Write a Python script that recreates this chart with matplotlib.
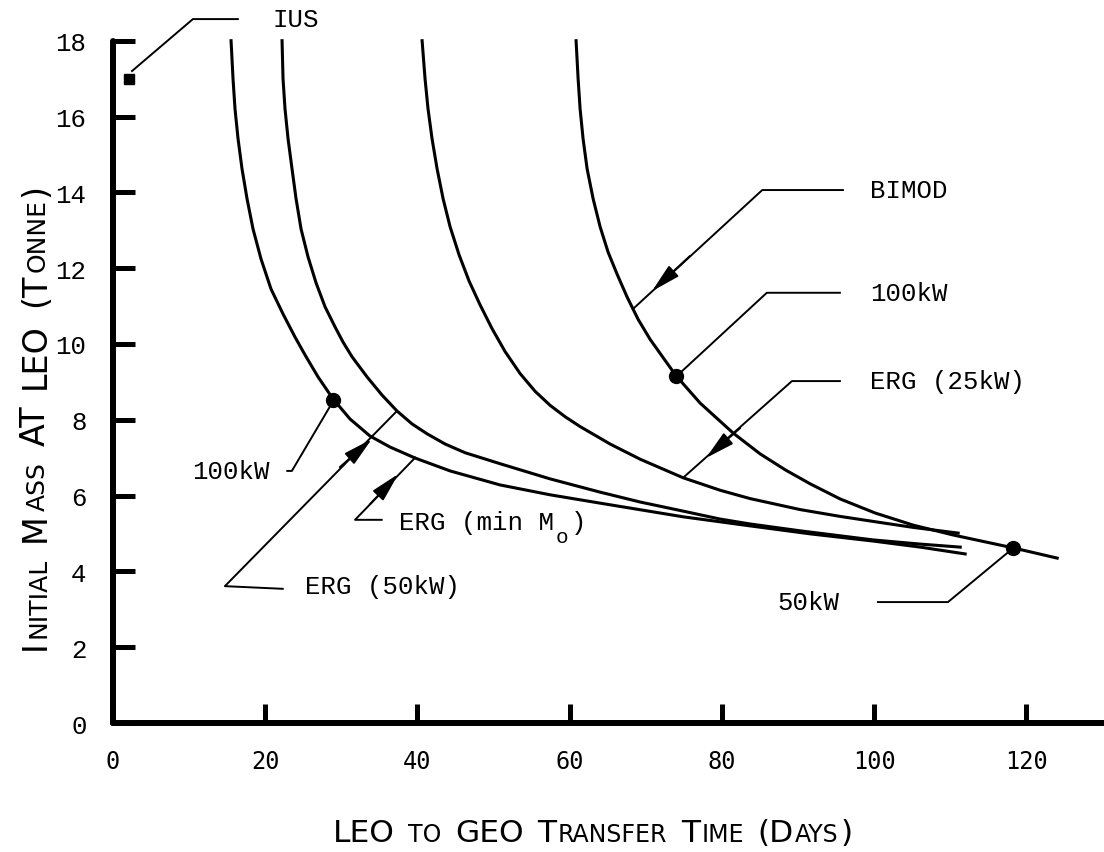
import matplotlib
matplotlib.use('Agg')
import matplotlib.pyplot as plt
from matplotlib import font_manager

# curves (days, tonnes)
days_min = [15.51, 15.77, 16.03, 16.43, 16.95, 17.61, 18.40, 19.45, 20.76, 22.34, 23.92,
            25.23, 26.94, 28.91, 31.14, 33.77, 36.40, 39.69, 44.29, 50.86, 57.43, 64.0,
            74.90, 83.71, 91.59, 99.87, 106.05, 111.96]
mass_min = [18.0, 16.99, 16.20, 15.41, 14.62, 13.83, 13.03, 12.24, 11.45, 10.79, 10.18,
            9.71, 9.13, 8.55, 8.02, 7.57, 7.28, 6.99, 6.65, 6.28, 6.02, 5.80,
            5.44, 5.20, 4.99, 4.80, 4.64, 4.46]

days_50 = [22.21, 22.34, 22.60, 23.00, 23.52, 24.05, 24.71, 25.62, 26.68, 27.86, 29.17,
           30.22, 31.41, 33.38, 35.35, 37.32, 39.29, 41.26, 43.63, 46.26, 50.86, 57.43,
           64.0, 69.25, 74.90, 79.77, 83.71, 90.28, 99.87, 106.05, 111.31]
mass_50 = [18.0, 16.99, 16.20, 15.41, 14.62, 13.83, 13.03, 12.30, 11.61, 10.98, 10.45,
           10.05, 9.66, 9.13, 8.65, 8.23, 7.89, 7.63, 7.36, 7.13, 6.84, 6.44,
           6.09, 5.83, 5.59, 5.38, 5.25, 5.07, 4.83, 4.72, 4.64]

days_25 = [40.61, 41.0, 41.39, 41.92, 42.58, 43.37, 44.29, 45.47, 46.78, 48.23, 49.81,
           51.51, 53.48, 55.46, 57.43, 59.40, 61.37, 65.31, 69.25, 74.90, 79.77, 83.71,
           90.28, 95.54, 100.79, 105.13, 111.04]
mass_25 = [18.0, 16.99, 16.20, 15.41, 14.62, 13.83, 13.09, 12.35, 11.66, 11.03, 10.40,
           9.80, 9.22, 8.75, 8.38, 8.08, 7.82, 7.36, 6.96, 6.47, 6.14, 5.92,
           5.63, 5.45, 5.29, 5.16, 5.01]

days_bimod = [60.84, 61.11, 61.37, 61.76, 62.29, 63.08, 64.0, 65.05, 66.23, 67.54, 68.99,
              70.57, 73.98, 77.14, 81.47, 85.02, 88.31, 91.59, 95.54, 100.13, 105.13,
              110.38, 118.27, 124.05]
mass_bimod = [18.0, 16.99, 16.20, 15.41, 14.62, 13.83, 13.09, 12.42, 11.84, 11.24, 10.65,
              10.12, 9.16, 8.44, 7.65, 7.10, 6.68, 6.31, 5.91, 5.54, 5.22,
              4.96, 4.62, 4.35]

dot_days = [28.9, 74.0, 118.3]
dot_mass = [8.53, 9.16, 4.62]
ius_days = [2.1]
ius_mass = [17.0]

xticks = [0, 20, 40, 60, 80, 100, 120]
yticks = [0, 2, 4, 6, 8, 10, 12, 14, 16, 18]

names = {f.name for f in font_manager.fontManager.ttflist}
label_font = 'Liberation Sans Narrow' if 'Liberation Sans Narrow' in names else 'DejaVu Sans'
mono = 'Liberation Mono'

W, H = 1104, 853
fig = plt.figure(figsize=(W / 100, H / 100), dpi=100)
ax = fig.add_axes([113 / W, 1 - 724 / H, 1 - 113 / W, 724 / H])

ax.set_xlim(0, 130.2)
ax.set_ylim(0, 19.1)
for s in ['top', 'right']:
    ax.spines[s].set_visible(False)
ax.spines['left'].set_bounds(0, 18)
for s in ['left', 'bottom']:
    ax.spines[s].set_linewidth(4.3)
    ax.spines[s].set_capstyle('round')

ax.set_xticks(xticks, labels=[str(t) for t in xticks], fontfamily='DejaVu Sans Mono', fontsize=17)
ax.set_yticks(yticks, labels=[str(t) for t in yticks], fontfamily=mono, fontsize=18.5)
ax.tick_params(axis='x', direction='in', length=14, width=3.6, pad=19)
ax.tick_params(axis='y', direction='in', length=16, width=3.6, pad=19)

lw = 2.2
ax.plot(days_min, mass_min, color='k', lw=lw, solid_joinstyle='round')
ax.plot(days_50, mass_50, color='k', lw=lw, solid_joinstyle='round')
ax.plot(days_25, mass_25, color='k', lw=lw, solid_joinstyle='round')
ax.plot(days_bimod, mass_bimod, color='k', lw=lw, solid_joinstyle='round')
ax.plot(dot_days, dot_mass, 'o', color='k', ms=10)
ax.plot(ius_days, ius_mass, 's', color='k', ms=7)


def leader(xs, ys, arrow=None):
    ax.plot(xs, ys, color='k', lw=1.4, clip_on=False)
    if arrow:
        ax.annotate('', xy=arrow[1], xytext=arrow[0],
                    arrowprops=dict(arrowstyle='-|>,head_length=0.9,head_width=0.22',
                                    color='k', lw=1.4, mutation_scale=20,
                                    shrinkA=0, shrinkB=0))


def label(x, y, s, size=18.5, ha='left'):
    ax.text(x, y, s, family=mono, fontsize=size, va='center', ha=ha)


# IUS
leader([2.5, 10.5, 16.4], [17.2, 18.57, 18.57])
label(21.0, 18.57, 'IUS')
# BIMOD
leader([95.9, 85.3, 68.3], [14.06, 14.06, 10.92], ((75.8, 12.32), (70.8, 11.39)))
label(99.5, 14.06, 'BIMOD')
# 100kW on BIMOD
leader([95.5, 85.9, 74.8], [11.35, 11.35, 9.29])
label(99.5, 11.35, '100kW')
# ERG (25kW)
leader([95.5, 89.2, 74.9], [9.02, 9.02, 6.47], ((82.4, 7.78), (77.9, 6.99)))
label(99.5, 9.02, 'ERG (25kW)')
# 50kW
leader([100.5, 109.7, 118.3], [3.19, 3.19, 4.62])
label(87.3, 3.19, '50kW')
# 100kW on the min-mass curve
leader([22.9, 23.5, 28.8], [6.65, 6.65, 8.45])
label(20.6, 6.65, '100kW', ha='right')
# ERG (min Mo)
leader([35.3, 31.8, 39.7], [5.36, 5.36, 7.0], ((33.8, 5.78), (37.5, 6.57)))
label(37.6, 5.3, 'ERG (min M')
label(58.1, 4.93, 'o', size=15)
label(60.2, 5.3, ')')
# ERG (50kW)
leader([22.3, 14.7, 37.3], [3.54, 3.61, 8.23], ((29.8, 6.75), (34.0, 7.49)))
label(25.2, 3.61, 'ERG (50kW)')

# small caps axis titles
B, S = True, False
xwords = [[('LEO', B)], [('TO', S)], [('GEO', B)], [('T', B), ('RANSFER', S)],
          [('T', B), ('IME', S)], [('(D', B), ('AYS', S), (')', B)]]
ywords = [[('I', B), ('NITIAL', S)], [('M', B), ('ASS', S)], [('AT', B)], [('LEO', B)],
          [('(T', B), ('ONNE', S), (')', B)]]


def smallcaps(words, center, base, vertical=False, big=24, small=18, gap=13):
    r = fig.canvas.get_renderer()
    widths = []
    for word in words:
        ws = []
        for s, b in word:
            t = fig.text(0, 0, s, fontsize=big if b else small, family=label_font)
            ws.append(t.get_window_extent(r).width)
            t.remove()
        widths.append(ws)
    total = sum(sum(ws) + 1.5 * (len(ws) - 1) for ws in widths) + gap * (len(words) - 1)
    pos = center - total / 2
    for word, ws in zip(words, widths):
        for (s, b), w in zip(word, ws):
            kw = dict(fontsize=big if b else small, family=label_font, ha='left', va='baseline')
            if vertical:
                fig.text(base / W, pos / H, s, rotation=90, rotation_mode='anchor', **kw)
            else:
                fig.text(pos / W, base / H, s, **kw)
            pos += w + 1.5
        pos += gap


smallcaps(xwords, 589, H - 842, big=22.5, small=17, gap=12)
smallcaps(ywords, H - 420, 45, vertical=True, big=24, small=18, gap=15)

fig.savefig('out.png', dpi=100)
